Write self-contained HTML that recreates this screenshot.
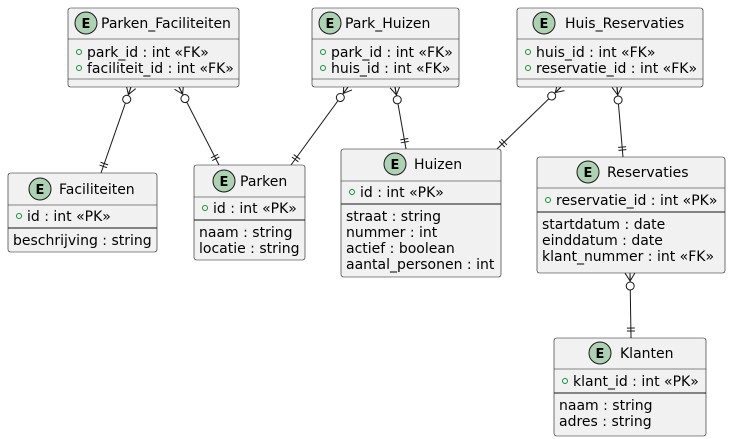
<!DOCTYPE html>
<html><head><meta charset="utf-8"><style>
html,body{margin:0;padding:0;background:#fff}
svg{display:block}
text{font-family:"DejaVu Sans","Liberation Sans",sans-serif;font-size:14px;fill:#000}
.t{font-size:14px}
.e{font-weight:bold;font-size:13px}
.box{fill:#F1F1F1;stroke:#181818;stroke-width:0.6}
.ln{stroke:#181818;stroke-width:0.6}
.sep{stroke:#181818;stroke-width:1}
.pk{fill:none;stroke:#1A8A3A;stroke-width:1}
.c{fill:#ADD1B2;stroke:#181818;stroke-width:1}
.edge{stroke:#181818;stroke-width:1;fill:none}
</style></head><body>
<svg width="730" height="439" viewBox="0 0 730 439" xmlns="http://www.w3.org/2000/svg">
<defs>
<marker id="ms" markerUnits="userSpaceOnUse" markerWidth="30" markerHeight="30" refX="0" refY="0" orient="auto" overflow="visible">
<path d="M0,-5 L8,0 M0,5 L8,0 M0,0 L8,0" stroke="#181818" stroke-width="1" fill="none"/>
<circle cx="13" cy="0" r="4" fill="#fff" stroke="#181818" stroke-width="1"/>
</marker>
<marker id="me" markerUnits="userSpaceOnUse" markerWidth="30" markerHeight="30" refX="0" refY="0" orient="auto" overflow="visible">
<path d="M-7,-4 L-7,4 M-10,-4 L-10,4" stroke="#181818" stroke-width="1" fill="none"/>
</marker>
</defs>

<path class="edge" d="M131,87 L101,173" marker-start="url(#ms)" marker-end="url(#me)"/>
<path class="edge" d="M179,87 L219,165" marker-start="url(#ms)" marker-end="url(#me)"/>
<path class="edge" d="M348,87 L291,165" marker-start="url(#ms)" marker-end="url(#me)"/>
<path class="edge" d="M395,87 L406,149" marker-start="url(#ms)" marker-end="url(#me)"/>
<path class="edge" d="M561,87 L497,149" marker-start="url(#ms)" marker-end="url(#me)"/>
<path class="edge" d="M617,87 L623,157" marker-start="url(#ms)" marker-end="url(#me)"/>
<path class="edge" d="M630,273 L631,338" marker-start="url(#ms)" marker-end="url(#me)"/>

<rect class="box" x="68" y="8" width="171" height="79" rx="2.5"/>
<circle class="c" cx="86" cy="23" r="11"/><text class="e" x="81.5" y="28">E</text>
<text class="t" x="101" y="28">Parken_Faciliteiten</text>
<line class="ln" x1="68" y1="39" x2="239" y2="39"/>
<circle class="pk" cx="79" cy="52" r="2.5"/><text x="87" y="57">park_id : int «FK»</text>
<circle class="pk" cx="79" cy="68" r="2.5"/><text x="87" y="73">faciliteit_id : int «FK»</text>
<line class="ln" x1="68" y1="79" x2="239" y2="79"/>

<rect class="box" x="312" y="8" width="147" height="79" rx="2.5"/>
<circle class="c" cx="330" cy="23" r="11"/><text class="e" x="325.5" y="28">E</text>
<text class="t" x="345" y="28">Park_Huizen</text>
<line class="ln" x1="312" y1="39" x2="459" y2="39"/>
<circle class="pk" cx="323" cy="52" r="2.5"/><text x="331" y="57">park_id : int «FK»</text>
<circle class="pk" cx="323" cy="68" r="2.5"/><text x="331" y="73">huis_id : int «FK»</text>
<line class="ln" x1="312" y1="79" x2="459" y2="79"/>

<rect class="box" x="517" y="8" width="186" height="79" rx="2.5"/>
<circle class="c" cx="544" cy="23" r="11"/><text class="e" x="539.5" y="28">E</text>
<text class="t" x="565" y="28">Huis_Reservaties</text>
<line class="ln" x1="517" y1="39" x2="703" y2="39"/>
<circle class="pk" cx="528" cy="52" r="2.5"/><text x="536" y="57">huis_id : int «FK»</text>
<circle class="pk" cx="528" cy="68" r="2.5"/><text x="536" y="73">reservatie_id : int «FK»</text>
<line class="ln" x1="517" y1="79" x2="703" y2="79"/>

<rect class="box" x="8" y="173" width="149" height="79" rx="2.5"/>
<circle class="c" cx="40" cy="189" r="11"/><text class="e" x="35.5" y="194">E</text>
<text class="t" x="59" y="194">Faciliteiten</text>
<line class="ln" x1="8" y1="205" x2="157" y2="205"/>
<circle class="pk" cx="19" cy="216" r="2.5"/><text x="27" y="221">id : int «PK»</text>
<line class="sep" x1="8" y1="228" x2="157" y2="228"/>
<text x="13" y="245">beschrijving : string</text>

<rect class="box" x="194" y="165" width="111" height="95" rx="2.5"/>
<circle class="c" cx="224" cy="181" r="11"/><text class="e" x="219.5" y="186">E</text>
<text class="t" x="240" y="186">Parken</text>
<line class="ln" x1="194" y1="197" x2="305" y2="197"/>
<circle class="pk" cx="205" cy="208" r="2.5"/><text x="213" y="213">id : int «PK»</text>
<line class="sep" x1="194" y1="220" x2="305" y2="220"/>
<text x="199" y="237">naam : string</text>
<text x="199" y="253">locatie : string</text>

<rect class="box" x="341" y="149" width="160" height="128" rx="2.5"/>
<circle class="c" cx="395" cy="164" r="11"/><text class="e" x="390.5" y="169">E</text>
<text class="t" x="414" y="169">Huizen</text>
<line class="ln" x1="341" y1="181" x2="501" y2="181"/>
<circle class="pk" cx="352" cy="192" r="2.5"/><text x="360" y="197">id : int «PK»</text>
<line class="sep" x1="341" y1="204" x2="501" y2="204"/>
<text x="346" y="221">straat : string</text>
<text x="346" y="237">nummer : int</text>
<text x="346" y="253">actief : boolean</text>
<text x="346" y="269">aantal_personen : int</text>

<rect class="box" x="537" y="157" width="188" height="116" rx="2.5"/>
<circle class="c" cx="588" cy="172" r="11"/><text class="e" x="583.5" y="177">E</text>
<text class="t" x="607" y="177">Reservaties</text>
<line class="ln" x1="537" y1="188" x2="725" y2="188"/>
<circle class="pk" cx="548" cy="200" r="2.5"/><text x="556" y="205">reservatie_id : int «PK»</text>
<line class="sep" x1="537" y1="212" x2="725" y2="212"/>
<text x="542" y="229">startdatum : date</text>
<text x="542" y="245">einddatum : date</text>
<text x="542" y="261">klant_nummer : int «FK»</text>

<rect class="box" x="554" y="338" width="152" height="98" rx="2.5"/>
<circle class="c" cx="600" cy="353" r="11"/><text class="e" x="595.5" y="358">E</text>
<text class="t" x="620" y="358">Klanten</text>
<line class="ln" x1="554" y1="369" x2="706" y2="369"/>
<circle class="pk" cx="565" cy="381" r="2.5"/><text x="573" y="386">klant_id : int «PK»</text>
<line class="sep" x1="554" y1="393" x2="706" y2="393"/>
<text x="559" y="410">naam : string</text>
<text x="559" y="426">adres : string</text>
</svg>
</body></html>
